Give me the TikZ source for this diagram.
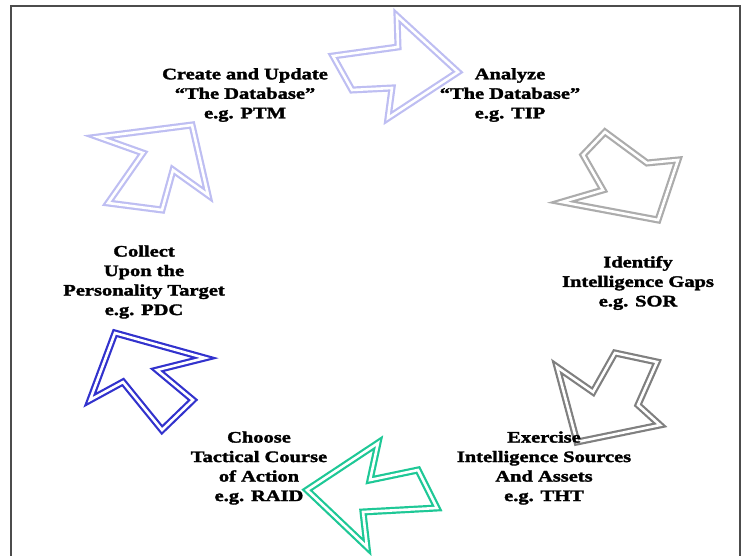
\documentclass[tikz,border=0pt]{standalone}
\usepackage{fontspec}
\usepackage{tikz}
\usetikzlibrary{calc}
\newfontfamily\tagfont{Liberation Serif}[FakeStretch=1.28, Ligatures=TeX, BoldFeatures={FakeBold=2}]
\definecolor{lilac}{RGB}{190,190,242}
\definecolor{lightgrey}{RGB}{172,172,172}
\definecolor{darkgrey}{RGB}{128,128,128}
\definecolor{teal}{RGB}{30,200,150}
\definecolor{royal}{RGB}{50,50,205}
\tikzstyle{every node}=[font=\tagfont\bfseries\fontsize{16}{19.5}\selectfont]
\tikzstyle{hollow}=[line width=2.2pt, double=white, double distance=2.6pt, line join=miter]
\tikzstyle{tag}=[align=center, inner sep=0pt]

\begin{document}
\begin{tikzpicture}[x=1pt, y=-1pt]

                \useasboundingbox (0,0) rectangle (742,556);

                % frame
                \draw [line width=1.5pt, black!70] (11,556) -- (11,6) -- (740,6) -- (740,556);

                % arrows
                \draw [hollow, lilac] (333,56) -- (398,47) -- (397,16) -- (458,72) -- (388,118) -- (392,88) -- (352,90) -- cycle;
                \draw [hollow, lightgrey] (605,132) -- (647,163) -- (678,160) -- (658,220) -- (562,202) -- (603,190) -- (583,155) -- cycle;
                \draw [hollow, darkgrey] (615,353) -- (657,362) -- (638,405) -- (660,425) -- (577,442) -- (557,367) -- (593,392) -- cycle;
                \draw [hollow, teal] (307,490) -- (378,443) -- (370,480) -- (418,470) -- (437,508) -- (363,512) -- (367,547) -- cycle;
                \draw [hollow, royal] (115,333) -- (205,358) -- (157,370) -- (193,400) -- (162,430) -- (123,382) -- (90,400) -- cycle;
                \draw [hollow, lilac] (192,125) -- (208,195) -- (173,170) -- (162,210) -- (108,203) -- (143,153) -- (98,137) -- cycle;

                % labels
                \node [tag] (update) at (245,95) {Create and Update\\``The Database''\\e.g. PTM};
                \node [tag] (analyze) at (510,95) {Analyze\\``The Database''\\e.g. TIP};
                \node [tag] (gaps) at (638,283) {Identify\\Intelligence Gaps\\e.g. SOR};
                \node [tag] (exercise) at (544,468) {Exercise\\Intelligence Sources\\And Assets\\e.g. THT};
                \node [tag] (choose) at (259,468) {Choose\\Tactical Course\\of Action\\e.g. RAID};
                \node [tag] (collect) at (144,282) {Collect\\Upon the\\Personality Target\\e.g. PDC};

            \end{tikzpicture}
\end{document}
